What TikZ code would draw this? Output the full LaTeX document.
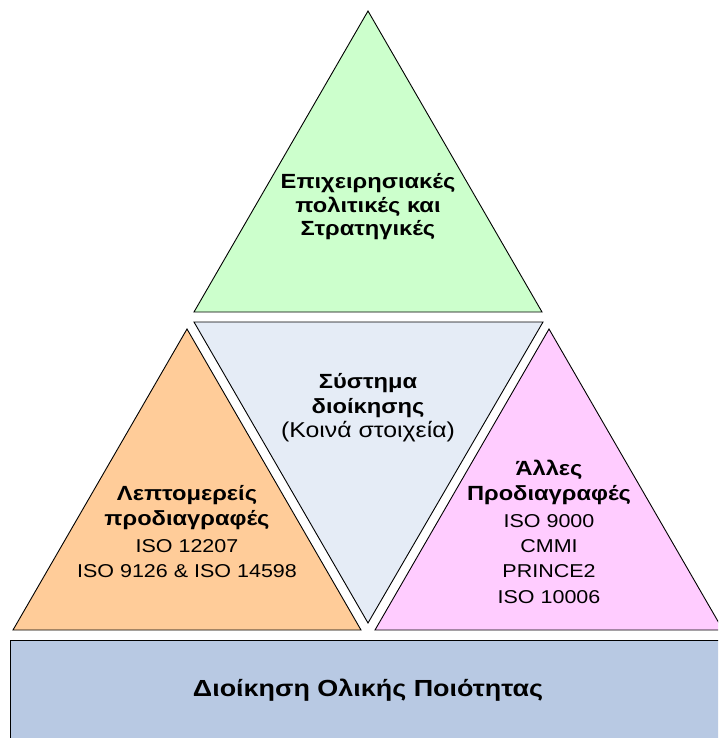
\documentclass[tikz,border=0pt]{standalone}
\usepackage{fontspec}
\setmainfont[FakeStretch=1.155]{Liberation Sans}
\begin{document}
\begin{tikzpicture}[x=1pt,y=-1pt,
  tri/.style={draw=black,line width=0.9pt,line join=miter},
  bigtxt/.style={anchor=base,inner sep=0pt,font=\fontsize{20.5}{24}\selectfont\bfseries},
  bartxt/.style={anchor=base,inner sep=0pt,font=\fontsize{23.3}{27}\selectfont\bfseries},
  midtxt/.style={anchor=base,inner sep=0pt,font=\fontsize{21.5}{25}\selectfont},
  smalltxt/.style={anchor=base,inner sep=0pt,font=\fontsize{18.6}{22}\selectfont}]
\definecolor{topgreen}{HTML}{CCFFCC}
\definecolor{midblue}{HTML}{E5ECF6}
\definecolor{leftorange}{HTML}{FFCC99}
\definecolor{rightpink}{HTML}{FFCCFF}
\definecolor{basebar}{HTML}{B8C9E3}
\useasboundingbox (0,0) rectangle (718,738);
\begin{scope}
\clip (0,0) rectangle (718,738);
% vertices of the four triangles
\coordinate (gA) at (368,11);  \coordinate (gL) at (194,312); \coordinate (gR) at (542,312);
\coordinate (bL) at (194,322); \coordinate (bR) at (543,322); \coordinate (bB) at (368,623);
\coordinate (oA) at (187,329); \coordinate (oL) at (13,630);  \coordinate (oR) at (361,630);
\coordinate (pA) at (549,329); \coordinate (pL) at (375,630); \coordinate (pR) at (723,630);
% base bar, running past the right and lower edges
\draw[tri,fill=basebar] (10,760) -- (10,640) -- (740,640) -- (740,760);
% triangles
\draw[tri,fill=topgreen] (gA) -- (gL) -- (gR) -- cycle;
\draw[tri,fill=midblue] (bL) -- (bR) -- (bB) -- cycle;
\draw[tri,fill=leftorange] (oA) -- (oL) -- (oR) -- cycle;
\draw[tri,fill=rightpink] (pA) -- (pL) -- (pR) -- cycle;
\end{scope}
% labels
\node[bigtxt] (g1) at (368,188) {Επιχειρησιακές};
\node[bigtxt] (g2) at (368,212) {πολιτικές και};
\node[bigtxt] (g3) at (368,235.5) {Στρατηγικές};
\node[bigtxt] (b1) at (368,388.5) {Σύστημα};
\node[bigtxt] (b2) at (368,413) {διοίκησης};
\node[midtxt] (b3) at (368,437) {(Κοινά στοιχεία)};
\node[bigtxt] (o1) at (187,500) {Λεπτομερείς};
\node[bigtxt] (o2) at (187,525) {προδιαγραφές};
\node[smalltxt] (o3) at (187,552) {ISO 12207};
\node[smalltxt] (o4) at (187,577) {ISO 9126 \& ISO 14598};
\node[bigtxt] (p1) at (549,475) {Άλλες};
\node[bigtxt] (p2) at (549,500) {Προδιαγραφές};
\node[smalltxt] (p3) at (549,527) {ISO 9000};
\node[smalltxt] (p4) at (549,552) {CMMI};
\node[smalltxt] (p5) at (549,577) {PRINCE2};
\node[smalltxt] (p6) at (549,603) {ISO 10006};
\node[bartxt] (m1) at (368,696) {Διοίκηση Ολικής Ποιότητας};
\end{tikzpicture}
\end{document}
